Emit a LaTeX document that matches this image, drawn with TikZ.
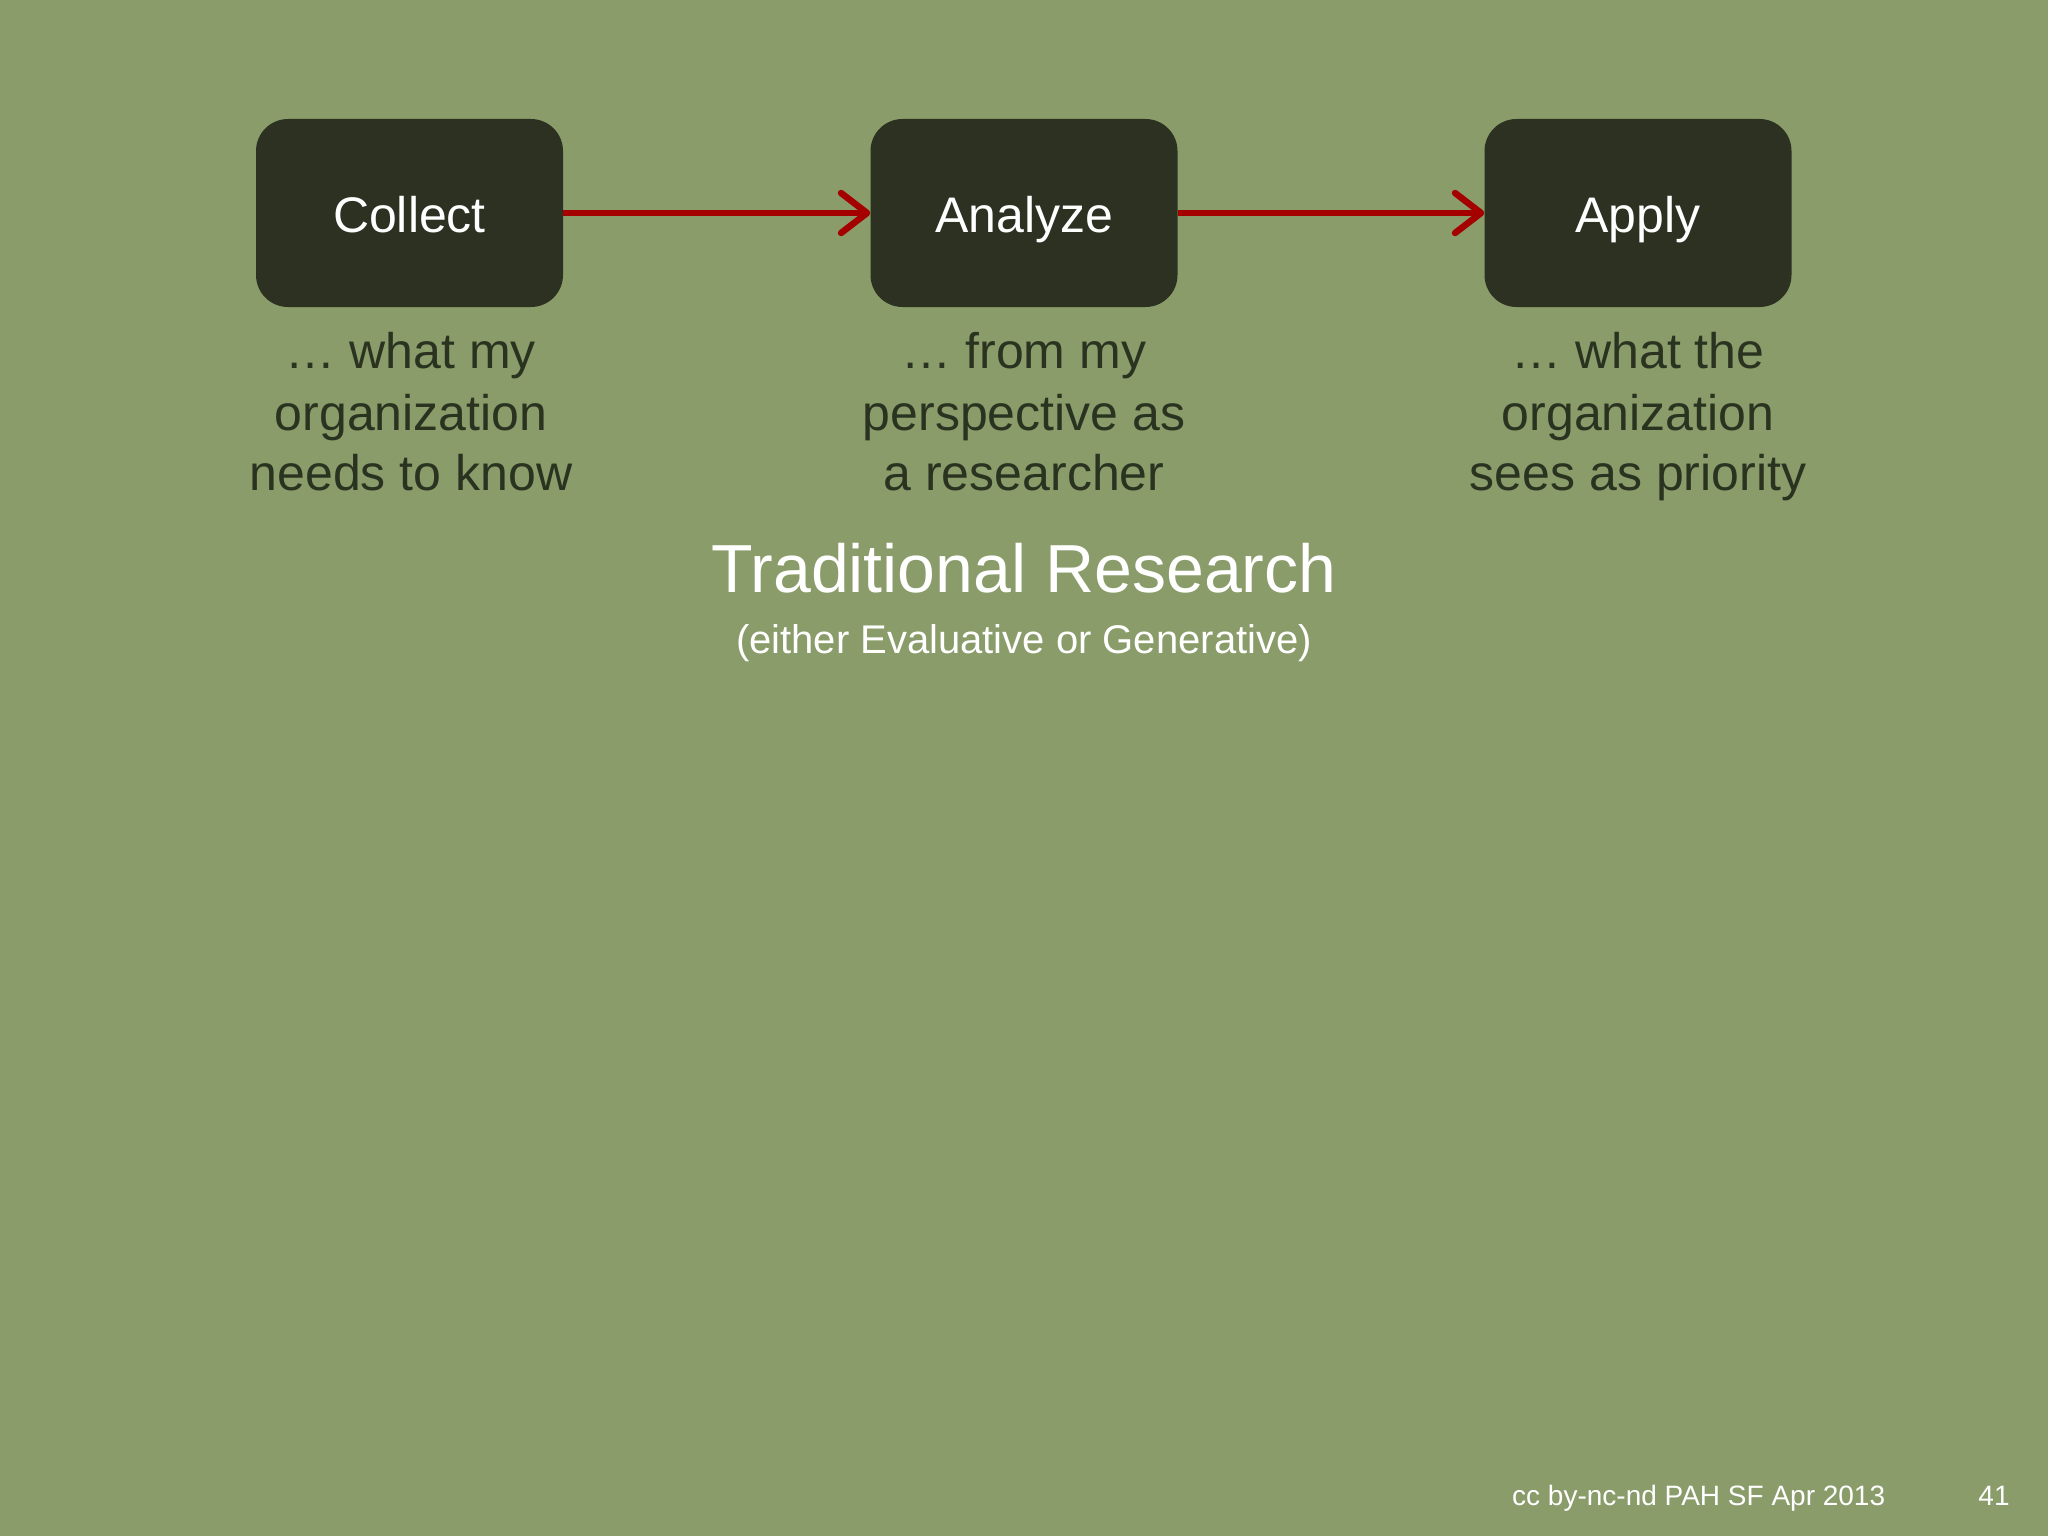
\documentclass[tikz,border=0pt]{standalone}
\usepackage{fontspec}
\setmainfont{Liberation Sans}
\usetikzlibrary{arrows.meta}
\definecolor{bg}{HTML}{8A9C6A}
\definecolor{boxfill}{HTML}{2C3121}
\definecolor{captxt}{HTML}{2A3320}
\definecolor{arrred}{HTML}{A50000}
\tikzset{
  stepbox/.style={fill=boxfill, rounded corners=32pt, minimum width=307pt, minimum height=188pt, inner sep=0pt},
  boxlabel/.style={anchor=base, text=white, font=\fontsize{50}{60}\selectfont, inner sep=0pt},
  capline/.style={anchor=base, text=captxt, font=\fontsize{50}{60}\selectfont, inner sep=0pt},
  flow/.style={draw=arrred, line width=6.5pt, -{Straight Barb[length=26pt,width=40pt,line cap=round,line join=round]}},
}
\begin{document}
\begin{tikzpicture}[x=1pt,y=-1pt]
\fill[bg] (0,0) rectangle (2048,1536);
\useasboundingbox (0,0) rectangle (2048,1536);
\node[stepbox] (collect) at (409.5,213) {};
\node[stepbox] (analyze) at (1024,213) {};
\node[stepbox] (apply) at (1638,213) {};
\node[boxlabel] (lc) at (409.5,232) {Collect};
\node[boxlabel] (la) at (1024,232) {Analyze};
\node[boxlabel] (lp) at (1638,232) {Apply};
\draw[flow] (collect.east) -- (analyze.west);
\draw[flow] (analyze.east) -- (apply.west);
\node[capline] (c1) at (411,368) {\dots\ what my};
\node[capline] (c2) at (411,430) {organization};
\node[capline] (c3) at (411,490) {needs to know};
\node[capline] (a1) at (1024,368) {\dots\ from my};
\node[capline] (a2) at (1024,430) {perspective as};
\node[capline] (a3) at (1024,490) {a researcher};
\node[capline] (p1) at (1638,368) {\dots\ what the};
\node[capline] (p2) at (1638,430) {organization};
\node[capline] (p3) at (1638,490) {sees as priority};
\node[anchor=base, text=white, inner sep=0pt, font=\fontsize{68}{80}\selectfont] (title) at (1024,592) {Traditional Research};
\node[anchor=base, text=white, inner sep=0pt, font=\fontsize{40}{48}\selectfont] (sub) at (1024,653) {(either Evaluative or Generative)};
\node[anchor=base west, text=white, inner sep=0pt, font=\fontsize{28}{34}\selectfont] (foot) at (1512,1505) {cc by-nc-nd PAH SF Apr 2013};
\node[anchor=base, text=white, inner sep=0pt, font=\fontsize{28}{34}\selectfont] (pg) at (1994,1505) {41};
\end{tikzpicture}
\end{document}
